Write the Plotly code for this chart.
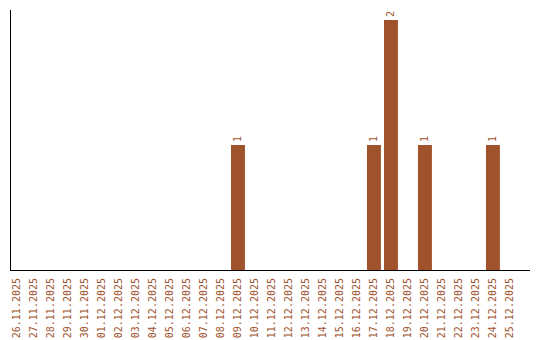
import plotly.graph_objects as go

dates = ["26.11.2025", "27.11.2025", "28.11.2025", "29.11.2025", "30.11.2025",
         "01.12.2025", "02.12.2025", "03.12.2025", "04.12.2025", "05.12.2025",
         "06.12.2025", "07.12.2025", "08.12.2025", "09.12.2025", "10.12.2025",
         "11.12.2025", "12.12.2025", "13.12.2025", "14.12.2025", "15.12.2025",
         "16.12.2025", "17.12.2025", "18.12.2025", "19.12.2025", "20.12.2025",
         "21.12.2025", "22.12.2025", "23.12.2025", "24.12.2025", "25.12.2025"]
counts = [0, 0, 0, 0, 0, 0, 0, 0, 0, 0, 0, 0, 0, 1, 0, 0, 0, 0, 0, 0,
          0, 1, 2, 0, 1, 0, 0, 0, 1, 0]

color = "#A0522D"
font = "DejaVu Sans Mono"

fig = go.Figure(go.Bar(
    x=dates, y=counts,
    marker=dict(color=color, line=dict(width=0)),
    text=[str(c) if c else "" for c in counts],
    textposition="outside", textangle=-90,
    textfont=dict(family=font, size=10, color=color),
    cliponaxis=False,
))
fig.update_layout(
    width=540, height=340,
    margin=dict(l=11, r=10, t=10, b=70, autoexpand=False),
    plot_bgcolor="white", paper_bgcolor="white",
    bargap=0.18, showlegend=False,
    xaxis=dict(type="category", tickangle=-90, showline=True, linecolor="black",
               linewidth=1, showgrid=False, ticks="", automargin=False,
               range=[-0.353, 30.18], ticklabelstandoff=3,
               tickfont=dict(family=font, size=10, color=color)),
    yaxis=dict(range=[0, 2.08], showline=True, linecolor="black", linewidth=1,
               showgrid=False, zeroline=False, showticklabels=False, ticks="",
               automargin=False),
)
fig.write_html("out.html")
